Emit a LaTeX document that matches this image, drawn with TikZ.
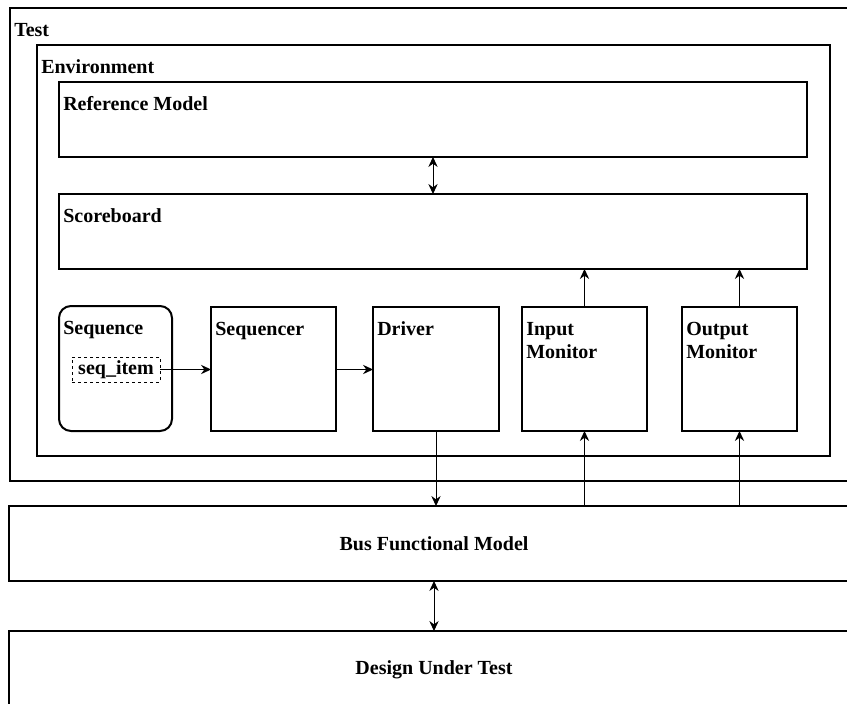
\documentclass[tikz,border=0pt]{standalone}
\usepackage{fontspec}
\setmainfont{Liberation Serif}
\usetikzlibrary{arrows.meta,fit}

\begin{document}
\begin{tikzpicture}[x=0.75pt,y=-0.75pt,
  >={Stealth[length=7.5pt,width=7pt,inset=2.5pt]},
  box/.style={draw, line width=1.5pt, inner sep=0pt, outer sep=0pt, font=\bfseries\fontsize{15}{17.25}\selectfont},
  lbl/.style={anchor=base west, inner sep=0pt, xshift=3pt, yshift=-21pt, align=left, font=\bfseries\fontsize{15}{17.25}\selectfont},
  mid/.style={anchor=center, inner sep=0pt, font=\bfseries\fontsize{15}{17.25}\selectfont},
  link/.style={->, line width=0.75pt}]
\useasboundingbox (0,0) rectangle (847,704);
\clip (0,0) rectangle (847,704);
%
\node[box, fit={(10,8) (859,481)}, label={[lbl]north west:Test}] (test) {};
\node[box, fit={(37,45) (830,456)}, label={[lbl]north west:Environment}] (env) {};
\node[box, fit={(59,82) (807,157)}, label={[lbl]north west:Reference Model}] (rm) {};
\node[box, fit={(59,194) (807,269)}, label={[lbl]north west:Scoreboard}] (sb) {};
%
\node[box, rounded corners=9pt, fit={(59,306) (172,431)}, label={[lbl]north west:Sequence}] (seq) {};
\node[box, line width=0.75pt, dash pattern=on 2.25pt off 2.25pt, fit={(72,357) (160,382)}, label={[mid]center:seq\_item}] (item) {};
\node[box, fit={(211,307) (336,431)}, label={[lbl]north west:Sequencer}] (sqr) {};
\node[box, fit={(373,307) (499,431)}, label={[lbl]north west:Driver}] (drv) {};
\node[box, fit={(522,307) (647,431)}, label={[lbl, text width=60pt]north west:Input\\Monitor}] (imon) {};
\node[box, fit={(682,307) (797,431)}, label={[lbl, text width=60pt]north west:Output\\Monitor}] (omon) {};
%
\node[box, fit={(9,506) (859,581)}, label={[mid]center:Bus Functional Model}] (bfm) {};
\node[box, fit={(9,631) (859,709)}, label={[mid]center:Design Under Test}] (dut) {};
%
\draw[link, <->] (rm.south) -- (sb.north);
\draw[link] (imon.north) -- (imon.north |- sb.south);
\draw[link] (omon.north) -- (omon.north |- sb.south);
\draw[link] (item.east) -- (item.east -| sqr.west);
\draw[link] (sqr.east |- item.east) -- (drv.west |- item.east);
%
\draw[link] (drv.south) -- (drv.south |- bfm.north);
\draw[link] (imon.south |- bfm.north) -- (imon.south);
\draw[link] (omon.south |- bfm.north) -- (omon.south);
\draw[link, <->] (bfm.south) -- (dut.north);
\end{tikzpicture}
\end{document}
